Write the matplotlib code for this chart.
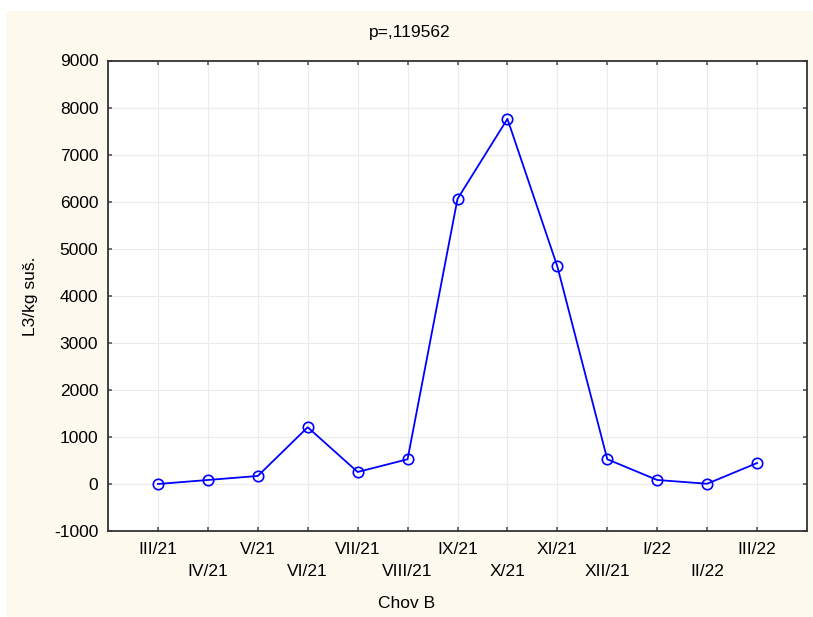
import matplotlib
matplotlib.use("Agg")
import matplotlib.pyplot as plt
from matplotlib.patches import Rectangle

months = ["III/21", "IV/21", "V/21", "VI/21", "VII/21", "VIII/21", "IX/21",
          "X/21", "XI/21", "XII/21", "I/22", "II/22", "III/22"]
values = [5, 90, 175, 1210, 260, 530, 6060, 7760, 4625, 530, 90, 10, 450]
yticks = [-1000, 0, 1000, 2000, 3000, 4000, 5000, 6000, 7000, 8000, 9000]

plt.rcParams['font.family'] = ['Liberation Sans', 'DejaVu Sans']
FS = 12.5
W, H = 813, 617
fig = plt.figure(figsize=(W / 100, H / 100), dpi=100, facecolor='white')
cream = '#FEF9EE'
fig.patches.append(Rectangle((6 / W, 0), 1 - 6 / W, 1 - 11 / H,
                             transform=fig.transFigure, facecolor=cream,
                             edgecolor='none', zorder=-10))

ax = fig.add_axes([108 / W, (H - 531.3) / H, (807 - 108) / W, (531.3 - 60.5) / H])
ax.set_facecolor('white')
x = list(range(len(months)))
ax.plot(x, values, color='#0000FF', linewidth=1.3, marker='o', markersize=7.5,
        markerfacecolor='none', markeredgecolor='#0000FF', markeredgewidth=1.2,
        zorder=3)
ax.set_xlim(-1, len(months))
ax.set_ylim(-1000, 9000)
ax.set_yticks(yticks)
ax.set_yticklabels([str(v) for v in yticks], fontsize=FS)
ax.set_xticks(x)
ax.set_xticklabels(months, fontsize=FS)
ax.grid(True, color='#EBEBEB', linewidth=0.8, zorder=0)
ax.set_axisbelow(True)
for s in ax.spines.values():
    s.set_color('#333333')
    s.set_linewidth(1.3)
ax.tick_params(axis='both', direction='in', length=3, width=1.2, color='#555555',
               top=True, right=True, labelcolor='black')
ax.tick_params(axis='x', pad=8)
ax.tick_params(axis='y', pad=7)
for i, t in enumerate(ax.xaxis.get_major_ticks()):
    if i % 2 == 1:
        t.set_pad(8 + 15.5)

ax.set_xlabel("Chov B", fontsize=FS)
ax.xaxis.set_label_coords(0.5, (H - 604) / H, transform=fig.transFigure)
ax.xaxis.label.set_verticalalignment('center')
ax.set_ylabel("L3/kg suš.", fontsize=FS)
ax.yaxis.set_label_coords(30 / W, ax.get_position().y0 + ax.get_position().height / 2,
                          transform=fig.transFigure)
ax.yaxis.label.set_horizontalalignment('center')
ax.yaxis.label.set_verticalalignment('center')
fig.text(410 / W, (H - 32) / H, "p=,119562", fontsize=FS, ha='center', va='center')

fig.savefig("out.png", dpi=100, facecolor='white')
